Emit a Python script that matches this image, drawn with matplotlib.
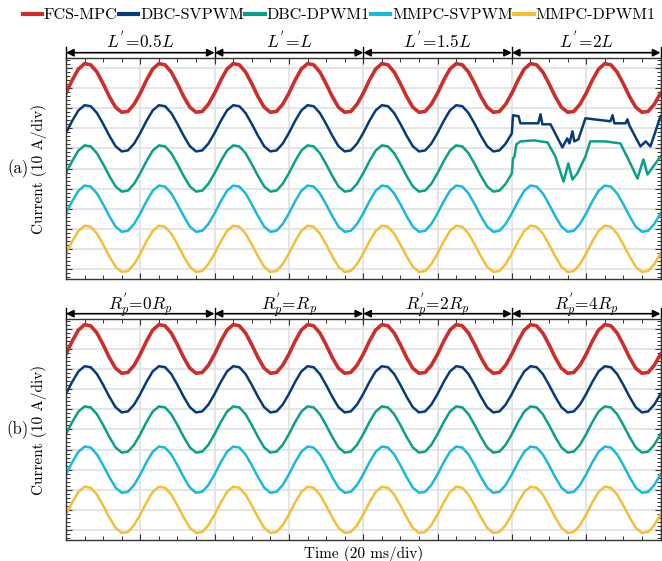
import numpy as np
import matplotlib.pyplot as plt
from matplotlib.lines import Line2D
from matplotlib.ticker import MultipleLocator

plt.rcParams['font.family'] = ['cmr10', 'DejaVu Serif']
plt.rcParams['mathtext.fontset'] = 'cm'
plt.rcParams['axes.unicode_minus'] = False

# 波形数据（单位: div），每个周期 20 ms 取 12 个点
names = ['FCS-MPC', 'DBC-SVPWM', 'DBC-DPWM1', 'MMPC-SVPWM', 'MMPC-DPWM1']
colors = ['#C9302C', '#073B77', '#0C9E89', '#1BB8D9', '#F3BF3A']
offsets = [9, 7, 5, 3, 1]

wave_red = [-0.25, 0.40, 0.95, 1.22, 1.16, 0.80, 0.22, -0.42, -0.95, -1.20, -1.16, -0.80]
wave_blue = [-0.23, 0.37, 0.89, 1.15, 1.10, 0.76, 0.22, -0.37, -0.89, -1.15, -1.10, -0.76]
wave_green = [-0.23, 0.37, 0.89, 1.15, 1.10, 0.76, 0.22, -0.37, -0.89, -1.15, -1.10, -0.76]
wave_cyan = [-0.23, 0.37, 0.89, 1.15, 1.10, 0.76, 0.22, -0.37, -0.89, -1.15, -1.10, -0.76]
wave_yellow = [-0.23, 0.37, 0.89, 1.15, 1.10, 0.76, 0.22, -0.37, -0.89, -1.15, -1.10, -0.76]
waves = [wave_red, wave_blue, wave_green, wave_cyan, wave_yellow]

# L'=2L 段（120 ms 之后）DBC 两种方法的畸变电流
t_blue_dist = [120.0, 120.3, 121.8, 122.3, 127.1, 127.7, 128.2, 130.4, 133.6, 134.9, 135.5,
               136.3, 136.8, 137.9, 139.8, 146.5, 147.1, 147.6, 150.6, 151.1, 151.6,
               154.6, 156.0, 157.3, 160.0]
blue_dist = [6.75, 7.65, 7.60, 7.25, 7.25, 7.70, 7.20, 7.20, 6.05, 6.50, 6.25,
             6.85, 6.35, 6.45, 7.50, 7.35, 7.65, 7.25, 7.25, 7.45, 7.15,
             6.10, 6.35, 6.10, 7.60]
t_green_dist = [120.0, 120.3, 120.7, 121.2, 122.3, 126.0, 129.6, 131.7, 133.9, 135.2, 136.3,
                137.6, 139.8, 141.1, 145.0, 149.2, 151.9, 153.8, 155.4, 156.5, 160.0]
green_dist = [4.75, 5.50, 5.60, 6.20, 6.35, 6.40, 6.30, 5.60, 4.35, 5.25, 4.45,
              4.75, 5.60, 6.35, 6.35, 6.25, 5.25, 4.50, 5.45, 4.70, 5.60]

seg_a = [r"$L^{'}\!=\!0.5L$", r"$L^{'}\!=\!L$", r"$L^{'}\!=\!1.5L$", r"$L^{'}\!=\!2L$"]
seg_b = [r"$R_p^{'}\!=\!0R_p$", r"$R_p^{'}\!=\!R_p$", r"$R_p^{'}\!=\!2R_p$", r"$R_p^{'}\!=\!4R_p$"]
seg_edges = [0, 40, 80, 120, 160]

t = np.linspace(0, 160, 97)

fig = plt.figure(figsize=(6.62, 5.61), dpi=100)
ax_a = fig.add_axes([66 / 662, 1 - 279 / 561, 594.5 / 662, 221 / 561])
ax_b = fig.add_axes([66 / 662, 1 - 540 / 561, 594.5 / 662, 221 / 561])


def setup(ax, labels, tag):
    ax.set_xlim(0, 160)
    ax.set_ylim(-0.5, 10.5)
    ax.xaxis.set_major_locator(MultipleLocator(20))
    ax.xaxis.set_minor_locator(MultipleLocator(5))
    ax.yaxis.set_major_locator(MultipleLocator(1))
    ax.yaxis.set_minor_locator(MultipleLocator(0.2))
    ax.tick_params(which='both', direction='in', top=True, right=True,
                   labelbottom=False, labelleft=False, color='#333333')
    ax.tick_params(which='major', length=4, width=0.8)
    ax.tick_params(which='minor', length=3, width=0.7)
    ax.grid(True, which='major', color='#E0E0E0', lw=1.2)
    ax.set_axisbelow(True)
    for s in ax.spines.values():
        s.set_color('#333333')
        s.set_linewidth(1.0)
    ax.set_ylabel('Current (10 A/div)', fontsize=11, labelpad=14)
    trans = ax.get_xaxis_transform()
    for x in seg_edges:
        ax.plot([x, x], [1.0, 1.05], transform=trans, color='k', lw=1.0, clip_on=False)
    for i in range(4):
        ax.annotate('', xy=(seg_edges[i + 1], 1.024), xytext=(seg_edges[i], 1.024),
                    xycoords=trans, textcoords=trans,
                    arrowprops=dict(arrowstyle='<|-|>', color='k', lw=1.2,
                                    shrinkA=0, shrinkB=0, mutation_scale=11))
        ax.text((seg_edges[i] + seg_edges[i + 1]) / 2, 1.043, labels[i], transform=trans,
                ha='center', va='baseline', fontsize=12.5)
    fig.text(18 / 662, ax.get_position().y0 + ax.get_position().height / 2, tag,
             ha='center', va='center', fontsize=12)


for ax, labels, tag, distort in [(ax_a, seg_a, '(a)', True), (ax_b, seg_b, '(b)', False)]:
    setup(ax, labels, tag)
    for k in range(5):
        y = offsets[k] + np.append(np.tile(waves[k], 8), waves[k][0])
        tt = t
        if distort and k == 1:
            m = t < 120
            tt = np.concatenate([t[m], t_blue_dist])
            y = np.concatenate([y[m], blue_dist])
        if distort and k == 2:
            m = t < 120
            tt = np.concatenate([t[m], t_green_dist])
            y = np.concatenate([y[m], green_dist])
        lw = 2.6 if k == 0 else 1.8
        ax.plot(tt, y, color=colors[k], lw=lw, solid_joinstyle='round')

ax_b.set_xlabel('Time (20 ms/div)', fontsize=11, labelpad=4)

handles = [Line2D([], [], color=c, lw=3) for c in colors]
fig.legend(handles, names, loc='center', bbox_to_anchor=(339 / 662, 1 - 15 / 561), ncol=5,
           frameon=False, fontsize=11.6, handlelength=1.2, handletextpad=0.1,
           columnspacing=0.1, borderpad=0)

fig.savefig('out.png', dpi=100)
